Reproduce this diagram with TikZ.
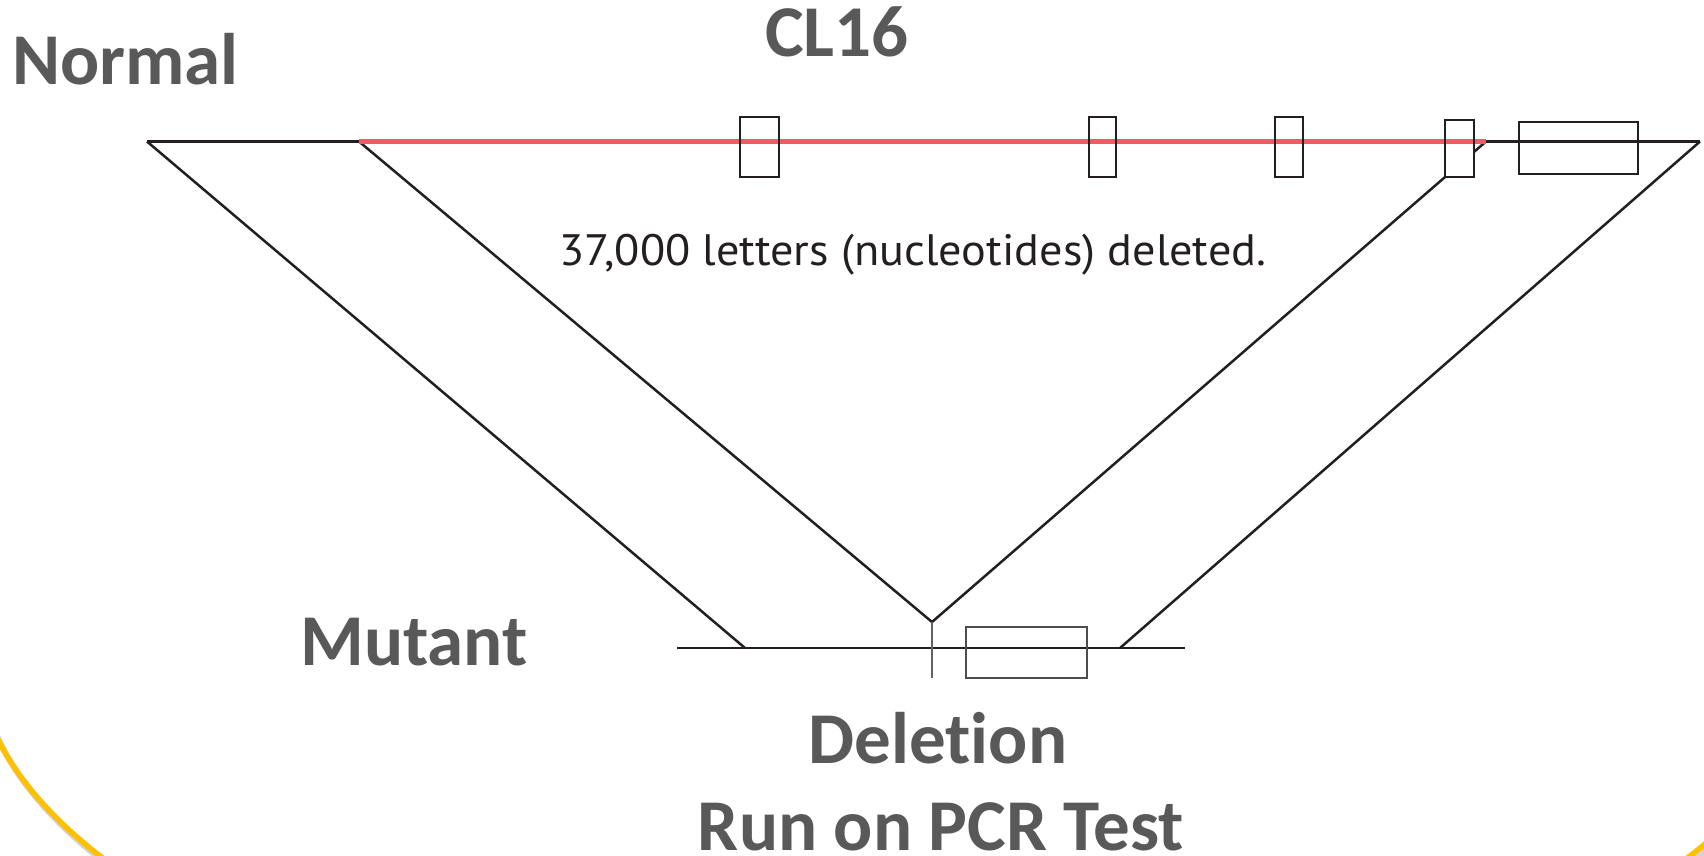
\documentclass[tikz,border=0pt]{standalone}
\usepackage{fontspec}
\setmainfont{Carlito}[Ligatures=NoCommon]
\newfontfamily\ptsans{PT Sans}[FakeStretch=1.05]
\definecolor{labelgray}{HTML}{595959}
\definecolor{genered}{HTML}{F05A64}
\definecolor{arcyellow}{HTML}{FFC000}
\definecolor{inkblack}{HTML}{231F20}
\tikzset{
  bigLabel/.style={font=\bfseries\fontsize{73}{80}\selectfont, text=labelgray, inner sep=0pt},
  noteLabel/.style={font=\ptsans\fontsize{44}{48}\selectfont, text=inkblack, inner sep=0pt},
  dnaLine/.style={line width=2.6pt, draw=inkblack},
  armLine/.style={line width=2.5pt, draw=inkblack},
  redLine/.style={line width=4.5pt, draw=genered},
  exonBox/.style={draw=inkblack, line width=2.8pt, inner sep=0pt, rectangle},
}
\begin{document}
\begin{tikzpicture}[x=1pt, y=-1pt]
\useasboundingbox (0,0) rectangle (1704,856);
% decorative arc (only its lower corners are visible)
\begin{scope}
\clip (0,690) rectangle (420,856) (1400,780) rectangle (1704,856);
\draw[gray, opacity=0.35, line width=6pt] (898,652) ellipse [x radius=920pt, y radius=415pt];
\draw[arcyellow, line width=5.5pt] (895,647) ellipse [x radius=920pt, y radius=415pt];
\end{scope}
% coordinates
\coordinate (TL) at (147,141.5);
\coordinate (RS) at (359,141.5);
\coordinate (RE) at (1486,141.5);
\coordinate (TR) at (1700,141.5);
\coordinate (ML) at (677,648);
\coordinate (MR) at (1185,648);
\coordinate (OL) at (745,648);
\coordinate (AP) at (932,622);
\coordinate (APB) at (932,678);
\coordinate (OR) at (1120,648);
% arms
\draw[armLine] (TL) -- (OL);
\draw[armLine] (RS) -- (AP);
\draw[armLine] (RE) -- (AP);
\draw[armLine] (TR) -- (OR);
% top line
\draw[dnaLine] (TL) -- (RS);
\draw[dnaLine] (RE) -- (TR);
% box4 hides arm
\node[exonBox, fill=white, minimum width=29pt, minimum height=57pt] (b4) at (1459.5,148.5) {};
\draw[redLine] (RS) -- (RE);
% exon boxes
\node[exonBox, minimum width=39pt, minimum height=60pt] (b1) at (759.5,147) {};
\node[exonBox, minimum width=27pt, minimum height=60pt] (b2) at (1102.5,147) {};
\node[exonBox, minimum width=28pt, minimum height=60pt] (b3) at (1289,147) {};
\node[exonBox, minimum width=29pt, minimum height=57pt] (b4b) at (1459.5,148.5) {};
\node[exonBox, minimum width=119pt, minimum height=52pt] (b5) at (1578.5,148) {};
% mutant line
\draw[dnaLine] (ML) -- (MR);
\draw[line width=2.8pt, draw=inkblack!70] (AP) -- (APB);
\node[exonBox, draw=inkblack!80, minimum width=121pt, minimum height=51pt] (mb) at (1026.5,652.5) {};
% labels
\node[bigLabel, anchor=base west] (normal) at (12,85) {Normal};
\node[bigLabel, anchor=base] (cl) at (837,57) {CL16};
\node[bigLabel, anchor=base west] (mutant) at (300,665) {Mutant};
\node[bigLabel, anchor=base] (del) at (938,763) {Deletion};
\node[bigLabel, anchor=base, text depth=0pt] (run) at (941,850) {Run on PCR Test};
\node[noteLabel, anchor=base west] (note) at (559,265) {37,000 letters (nucleotides) deleted.};
\end{tikzpicture}
\end{document}
